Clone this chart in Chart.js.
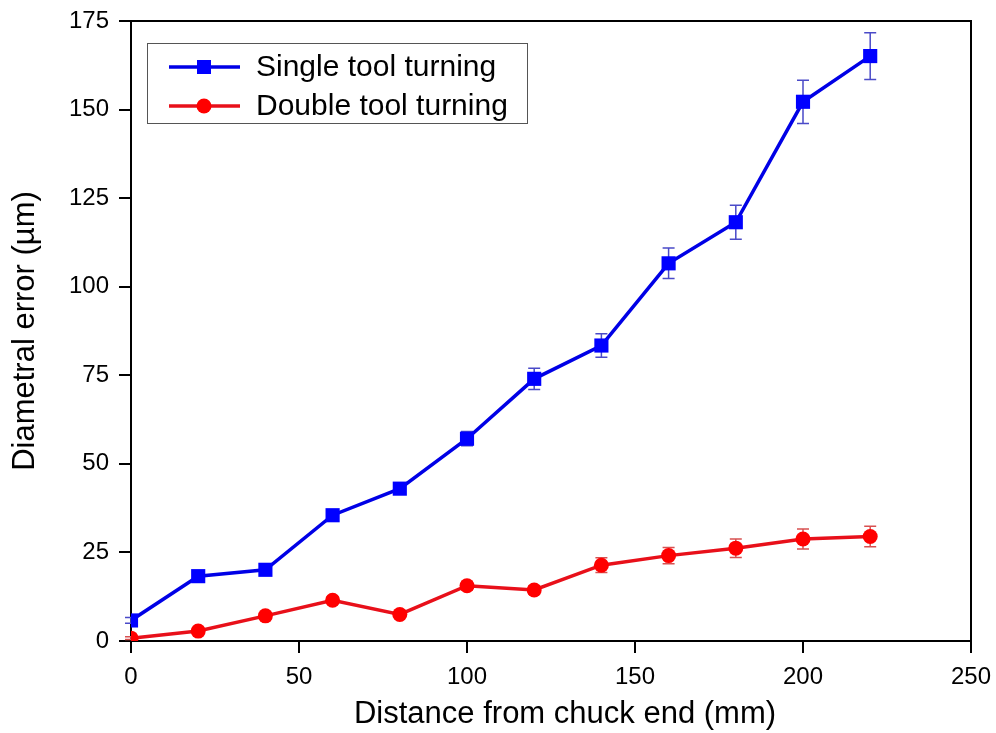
<!DOCTYPE html>
<html>
<head>
<meta charset="utf-8">
<script src="https://cdn.jsdelivr.net/npm/chart.js@4/dist/chart.umd.min.js"></script>
<style>
html,body{margin:0;padding:0;background:#fff;}
#wrap{width:996px;height:733px;}
</style>
</head>
<body>
<div id="wrap"><canvas id="c" width="996" height="733"></canvas></div>
<script>
const distances = [0, 20, 40, 60, 80, 100, 120, 140, 160, 180, 200, 220];
const singleTool = [5.8, 18.3, 20.1, 35.5, 43.0, 57.1, 74.0, 83.4, 106.6, 118.2, 152.2, 165.1];
const singleErr  = [0.8, 1.0, 1.0, 1.2, 1.2, 2.0, 3.0, 3.3, 4.3, 4.8, 6.1, 6.6];
const doubleTool = [0.8, 2.8, 7.1, 11.5, 7.5, 15.6, 14.4, 21.4, 24.1, 26.2, 28.8, 29.5];
const doubleErr  = [0.4, 0.6, 0.8, 1.0, 0.8, 1.2, 1.2, 2.1, 2.3, 2.6, 2.8, 2.9];
const xTicks = [0, 50, 100, 150, 200, 250];
const yTicks = [0, 25, 50, 75, 100, 125, 150, 175];
const seriesNames = ['Single tool turning', 'Double tool turning'];
const xTitle = 'Distance from chuck end (mm)';
const yTitle = 'Diametral error (µm)';

const FONT = "'Liberation Sans', Arial, Helvetica, sans-serif";

const errorBarPlugin = {
  id: 'errorBars',
  beforeDatasetsDraw(chart) {
    const ctx = chart.ctx;
    const xs = chart.scales.x, ys = chart.scales.y;
    chart.data.datasets.forEach((ds, i) => {
      const errs = ds.errors;
      if (!errs) return;
      ctx.save();
      ctx.strokeStyle = ds.errorColor;
      ctx.lineWidth = 1.5;
      ds.data.forEach((p, j) => {
        const x = xs.getPixelForValue(p.x);
        const yTop = ys.getPixelForValue(p.y + errs[j]);
        const yBot = ys.getPixelForValue(p.y - errs[j]);
        ctx.beginPath();
        ctx.moveTo(x, yTop); ctx.lineTo(x, yBot);
        ctx.moveTo(x - 6, yTop); ctx.lineTo(x + 6, yTop);
        ctx.moveTo(x - 6, yBot); ctx.lineTo(x + 6, yBot);
        ctx.stroke();
      });
      ctx.restore();
    });
  }
};

const framePlugin = {
  id: 'frame',
  afterDraw(chart) {
    const ctx = chart.ctx, a = chart.chartArea;
    ctx.save();
    ctx.strokeStyle = '#000';
    ctx.lineWidth = 2;
    ctx.beginPath();
    ctx.moveTo(a.left, a.top); ctx.lineTo(a.right, a.top); ctx.lineTo(a.right, a.bottom);
    ctx.stroke();
    // x axis title (slightly right of centre, as in the reference)
    ctx.fillStyle = '#000';
    ctx.font = '31px ' + FONT;
    ctx.textAlign = 'center';
    ctx.textBaseline = 'middle';
    ctx.fillText(xTitle, (a.left + a.right) / 2 + 14, chart.height - 19);
    // legend
    const lx = a.left + 16, ly = a.top + 22, lw = 380, lh = 80;
    ctx.fillStyle = '#fff';
    ctx.fillRect(lx, ly, lw, lh);
    ctx.strokeStyle = '#555';
    ctx.lineWidth = 1;
    ctx.strokeRect(lx + 0.5, ly + 0.5, lw, lh);
    chart.data.datasets.forEach((ds, i) => {
      const cy = ly + 24 + i * 39;
      ctx.strokeStyle = ds.borderColor;
      ctx.lineWidth = 3.5;
      ctx.beginPath();
      ctx.moveTo(lx + 22, cy); ctx.lineTo(lx + 93, cy);
      ctx.stroke();
      ctx.fillStyle = ds.pointBackgroundColor;
      const mx = lx + 57;
      if (ds.pointStyle === 'rect') {
        ctx.fillRect(mx - 7, cy - 7, 14, 14);
      } else {
        ctx.beginPath(); ctx.arc(mx, cy, 7.5, 0, Math.PI * 2); ctx.fill();
      }
      ctx.fillStyle = '#000';
      ctx.font = '30px ' + FONT;
      ctx.textBaseline = 'middle';
      ctx.textAlign = 'left';
      ctx.fillText(ds.label, lx + 109, cy + 1);
    });
    ctx.restore();
  }
};

const toPts = (xs, ys) => xs.map((x, i) => ({ x: x, y: ys[i] }));

new Chart(document.getElementById('c'), {
  type: 'line',
  data: {
    datasets: [
      {
        label: seriesNames[0],
        data: toPts(distances, singleTool),
        errors: singleErr,
        errorColor: '#4a4ac8',
        borderColor: '#0000e6',
        backgroundColor: '#0000ff',
        pointBackgroundColor: '#0000ff',
        pointBorderColor: '#0000ff',
        pointBorderWidth: 0,
        pointStyle: 'rect',
        pointRadius: 10,
        borderWidth: 3.5,
        tension: 0,
        clip: 0
      },
      {
        label: seriesNames[1],
        data: toPts(distances, doubleTool),
        errors: doubleErr,
        errorColor: '#d85050',
        borderColor: '#e8101a',
        backgroundColor: '#ff0000',
        pointBackgroundColor: '#ff0000',
        pointBorderColor: '#ff0000',
        pointBorderWidth: 0,
        pointStyle: 'circle',
        pointRadius: 7.5,
        borderWidth: 3.5,
        tension: 0,
        clip: 0
      }
    ]
  },
  options: {
    responsive: false,
    animation: false,
    events: [],
    layout: { padding: { top: 21, right: 25, bottom: 0, left: 0 } },
    plugins: { legend: { display: false }, tooltip: { enabled: false } },
    scales: {
      x: {
        type: 'linear',
        min: 0, max: 250,
        afterFit(s) { s.height = 92; s.paddingLeft = 0; s.paddingRight = 0; },
        afterBuildTicks(s) { s.ticks = xTicks.map(v => ({ value: v })); },
        grid: { display: true, drawOnChartArea: false, drawTicks: true, tickLength: 12, color: '#000', lineWidth: 2 },
        border: { display: true, color: '#000', width: 2 },
        ticks: { color: '#000', font: { family: FONT, size: 24 }, padding: 10, maxRotation: 0 },
        title: { display: false, text: xTitle }
      },
      y: {
        type: 'linear',
        min: 0, max: 175,
        afterFit(s) { s.width = 131; s.paddingTop = 0; s.paddingBottom = 0; },
        afterBuildTicks(s) { s.ticks = yTicks.map(v => ({ value: v })); },
        grid: { display: true, drawOnChartArea: false, drawTicks: true, tickLength: 12, color: '#000', lineWidth: 2 },
        border: { display: true, color: '#000', width: 2 },
        ticks: { color: '#000', font: { family: FONT, size: 24 }, padding: 10 },
        title: { display: true, text: yTitle, color: '#000', font: { family: FONT, size: 31 }, padding: { top: 7, bottom: 0 } }
      }
    }
  },
  plugins: [errorBarPlugin, framePlugin]
});
</script>
</body>
</html>
